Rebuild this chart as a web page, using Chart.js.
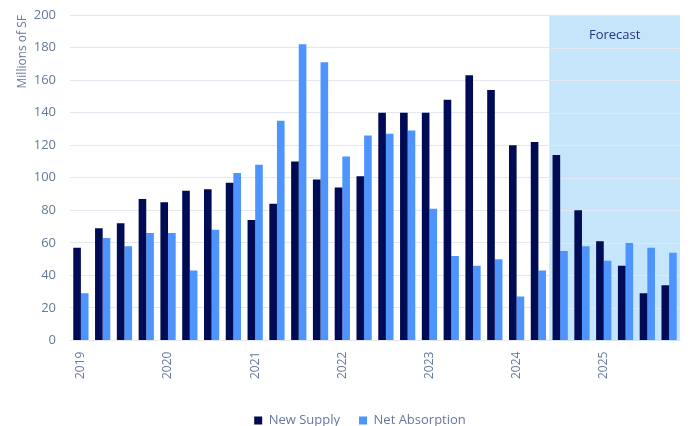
<!DOCTYPE html>
<html>
<head>
<meta charset="utf-8">
<script src="https://cdn.jsdelivr.net/npm/chart.js@4/dist/chart.umd.min.js"></script>
<style>
html,body{margin:0;padding:0;background:#fff;}
#wrap{width:692px;height:426px;position:relative;}
</style>
</head>
<body>
<div id="wrap"><canvas id="c" width="692" height="426"></canvas></div>
<script>
const categories = [
  "2019 Q1","2019 Q2","2019 Q3","2019 Q4",
  "2020 Q1","2020 Q2","2020 Q3","2020 Q4",
  "2021 Q1","2021 Q2","2021 Q3","2021 Q4",
  "2022 Q1","2022 Q2","2022 Q3","2022 Q4",
  "2023 Q1","2023 Q2","2023 Q3","2023 Q4",
  "2024 Q1","2024 Q2","2024 Q3","2024 Q4",
  "2025 Q1","2025 Q2","2025 Q3","2025 Q4"
];
const newSupply = [57,69,72,87, 85,92,93,97, 74,84,110,99, 94,101,140,140, 140,148,163,154, 120,122,114,80, 61,46,29,34];
const netAbsorption = [29,63,58,66, 66,43,68,103, 108,135,182,171, 113,126,127,129, 81,52,46,50, 27,43,55,58, 49,60,57,54];
const forecastStart = "2024 Q3";
const yTicks = [0,20,40,60,80,100,120,140,160,180,200];

const tickColor = '#66789c';

const forecastPlugin = {
  id: 'forecast',
  afterLayout(chart) {
    if (chart.legend) { chart.legend.left += 18; chart.legend.right += 18; }
  },
  beforeDatasetsDraw(chart) {
    const {ctx, chartArea, scales} = chart;
    const x = scales.x;
    const idx = categories.indexOf(forecastStart);
    const half = (x.getPixelForValue(1) - x.getPixelForValue(0)) / 2;
    const left = x.getPixelForValue(idx) - half;
    ctx.save();
    ctx.fillStyle = '#c5e5fb';
    ctx.fillRect(left, chartArea.top, chartArea.right - left, chartArea.bottom - chartArea.top);
    ctx.strokeStyle = '#e4e7ef';
    ctx.lineWidth = 1;
    const y = scales.y;
    yTicks.forEach(v => {
      if (v === 0) return;
      const py = Math.round(y.getPixelForValue(v)) + 0.5;
      ctx.beginPath(); ctx.moveTo(left, py); ctx.lineTo(chartArea.right, py); ctx.stroke();
    });
    ctx.fillStyle = '#263580';
    ctx.font = '13px "Open Sans"';
    ctx.textAlign = 'center';
    ctx.textBaseline = 'middle';
    ctx.fillText('Forecast', (left + chartArea.right) / 2, chartArea.top + 20);
    ctx.restore();
  }
};

new Chart(document.getElementById('c'), {
  type: 'bar',
  data: {
    labels: categories,
    datasets: [
      {label: 'New Supply', data: newSupply, backgroundColor: '#000b55', categoryPercentage: 0.7, barPercentage: 1.0},
      {label: 'Net Absorption', data: netAbsorption, backgroundColor: '#4d94ff', categoryPercentage: 0.7, barPercentage: 1.0}
    ]
  },
  options: {
    responsive: false,
    animation: false,
    layout: {padding: {top: 0, right: 12, left: 4, bottom: -11}},
    plugins: {
      legend: {
        position: 'bottom',
        labels: {boxWidth: 8, boxHeight: 8, color: tickColor, font: {family: 'Open Sans', size: 13}, padding: 19}
      },
      tooltip: {enabled: false}
    },
    scales: {
      x: {
        grid: {display: false},
        border: {color: '#e4e7ef'},
        afterFit: (s) => { s.height += 13; },
        ticks: {
          color: tickColor, font: {family: 'Open Sans', size: 12},
          autoSkip: false, maxRotation: 90, minRotation: 90,
          callback: function(v, i) { const l = categories[i]; return l.endsWith('Q1') ? l.slice(0,4) : ''; }
        }
      },
      y: {
        min: 0, max: 200,
        afterBuildTicks: (s) => { s.ticks = yTicks.map(v => ({value: v})); },
        afterFit: (s) => { s.width = 66; s.paddingTop = 15; s.paddingBottom = 8; },
        grid: {color: '#e4e7ef', drawTicks: false},
        border: {display: false},
        ticks: {color: tickColor, font: {family: 'Open Sans', size: 13}, padding: 14},
        title: {display: true, text: 'Millions of SF', align: 'end', color: tickColor, font: {family: 'Open Sans', size: 12}, padding: {top: 11, bottom: 0}}
      }
    }
  },
  plugins: [forecastPlugin]
});
</script>
</body>
</html>
